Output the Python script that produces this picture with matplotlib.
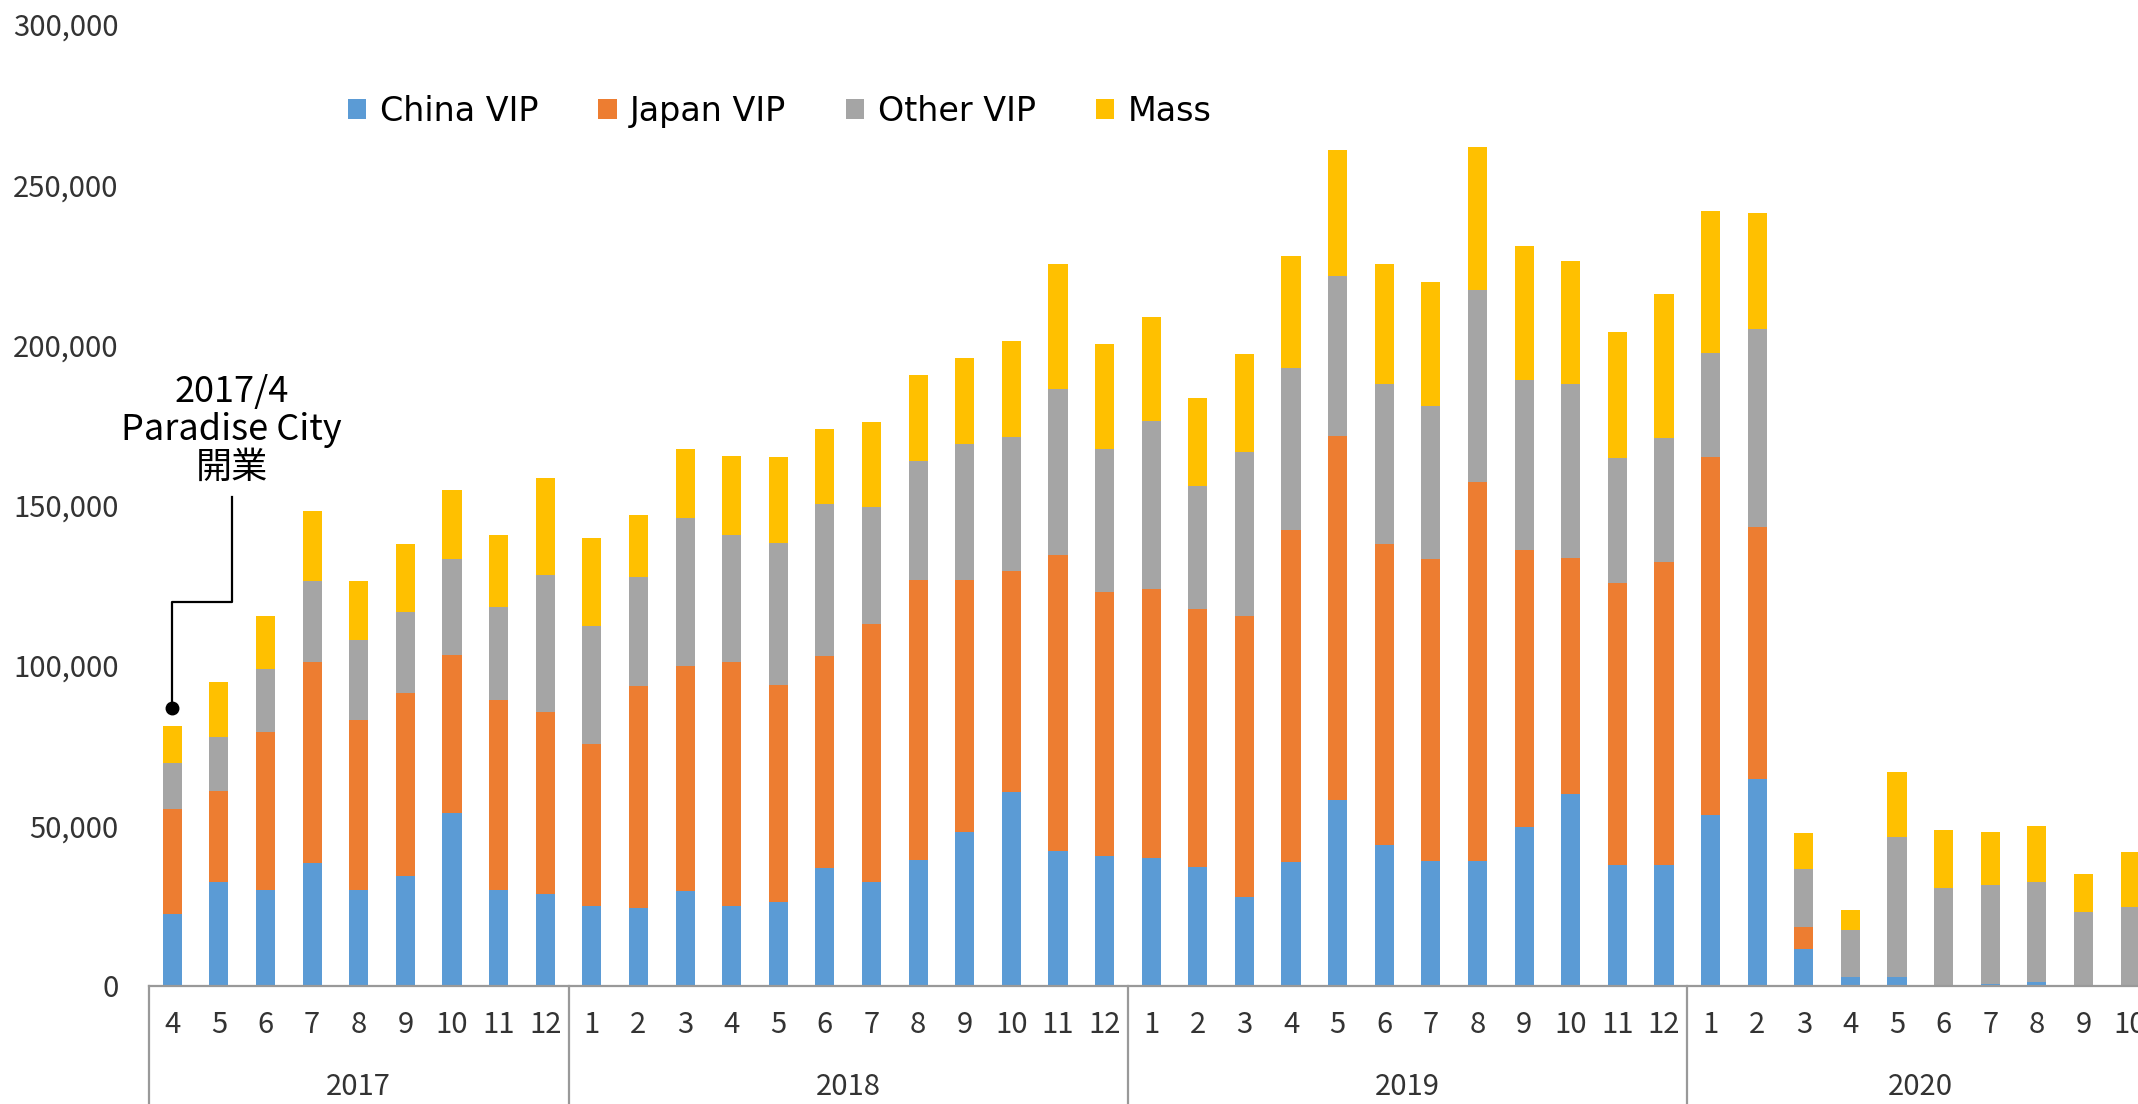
import matplotlib.pyplot as plt
from matplotlib.transforms import blended_transform_factory
from matplotlib.ticker import FuncFormatter

plt.rcParams['font.family'] = ['Noto Sans CJK JP', 'DejaVu Sans']

# 年と月（2017/4 〜 2020/10）
years = ["2017", "2018", "2019", "2020"]
months_per_year = [list(range(4, 13)), list(range(1, 13)), list(range(1, 13)), list(range(1, 11))]

# 来場者数（人）
china_vip = [22400, 32300, 29900, 38500, 29900, 34300, 54100, 29900, 28800,
             24900, 24200, 29500, 24900, 26200, 36700, 32300, 39400, 48000, 60500, 42000, 40500,
             40000, 37000, 27700, 38700, 58100, 44000, 38900, 38900, 49500, 59800, 37600, 37600,
             53500, 64700, 11400, 2900, 2900, 300, 700, 1100, 0, 0]
japan_vip = [32800, 28600, 49300, 62500, 53000, 57000, 49300, 59400, 56800,
             50600, 69500, 70200, 76300, 67700, 66300, 80600, 87300, 78700, 68900, 92600, 82500,
             83900, 80500, 87800, 103600, 113500, 93900, 94200, 118400, 86500, 73700, 88000, 94600,
             111500, 78500, 7100, 0, 0, 0, 0, 0, 0, 0]
other_vip = [14500, 16700, 19600, 25500, 24900, 25500, 29900, 29100, 42700,
             36700, 33900, 46200, 39600, 44300, 47300, 36700, 37200, 42300, 42000, 51700, 44600,
             52500, 38500, 51000, 50400, 49900, 49800, 48000, 59800, 53000, 54200, 39000, 38700,
             32600, 61800, 18000, 14500, 43500, 30300, 30800, 31500, 23100, 24600]
mass = [11500, 17400, 16500, 21600, 18500, 21100, 21600, 22200, 30300,
        27700, 19400, 21500, 24600, 26800, 23500, 26400, 26600, 27000, 29700, 39000, 32600,
        32200, 27500, 30600, 35000, 39400, 37600, 38700, 44700, 41800, 38500, 39600, 44900,
        44200, 36300, 11200, 6400, 20300, 18200, 16700, 17300, 11700, 17200]

series = [("China VIP", china_vip, "#5B9BD5"),
          ("Japan VIP", japan_vip, "#ED7D31"),
          ("Other VIP", other_vip, "#A5A5A5"),
          ("Mass", mass, "#FFC000")]

month_labels = [str(m) for ms in months_per_year for m in ms]
x = list(range(len(month_labels)))

fig = plt.figure(figsize=(21.38, 11.04), dpi=100)
ax = fig.add_axes([0.0697, 0.1069, 0.9303, 0.8709])

bottom = [0] * len(x)
handles = []
for name, vals, col in series:
    h = ax.bar(x, vals, width=0.41, bottom=bottom, color=col, label=name)
    handles.append(h)
    bottom = [b + v for b, v in zip(bottom, vals)]

ax.set_ylim(0, 300000)
ax.set_xlim(-0.5, 42.17)
ax.set_yticks(range(0, 300001, 50000))
ax.yaxis.set_major_formatter(FuncFormatter(lambda v, p: f"{int(v):,}"))
ax.tick_params(axis='y', length=0, pad=22, labelsize=21, labelcolor='#333333')
ax.set_xticks([])
for s in ["left", "top", "right"]:
    ax.spines[s].set_visible(False)
ax.spines["bottom"].set_color("#999999")
ax.spines["bottom"].set_linewidth(1.6)

# 2段の横軸ラベル（月・年）
trans = blended_transform_factory(ax.transData, ax.transAxes)
for xi, lab in zip(x, month_labels):
    ax.text(xi, -0.041, lab, transform=trans, ha='center', va='center',
            fontsize=21, color='#333333', clip_on=False)
start = 0
edges = [-0.5]
for yr, ms in zip(years, months_per_year):
    end = start + len(ms) - 1
    ax.text((start + end) / 2, -0.105, yr, transform=trans, ha='center', va='center',
            fontsize=21, color='#333333', clip_on=False)
    edges.append(end + 0.5)
    start = end + 1
for e in edges:
    ax.plot([e, e], [0, -0.2], transform=trans, color="#999999", lw=1.6, clip_on=False)

# 開業の注記
ax.plot([0, 0, 1.27, 1.27], [86700, 119700, 119700, 152500], color='black', lw=1.6)
ax.plot([0], [86700], 'o', color='black', markersize=9)
ax.text(1.27, 173500, "2017/4\nParadise City\n開業", ha='center', va='center',
        fontsize=26, linespacing=1.08, color='black')

fig.legend(handles=handles, loc='center left', bbox_to_anchor=(0.1628, 0.899),
           ncol=4, frameon=False, prop={'family': 'DejaVu Sans', 'size': 24},
           handlelength=0.55, handleheight=0.55, handletextpad=0.4,
           columnspacing=1.8, borderpad=0, borderaxespad=0)

fig.savefig("out.png", dpi=100)
